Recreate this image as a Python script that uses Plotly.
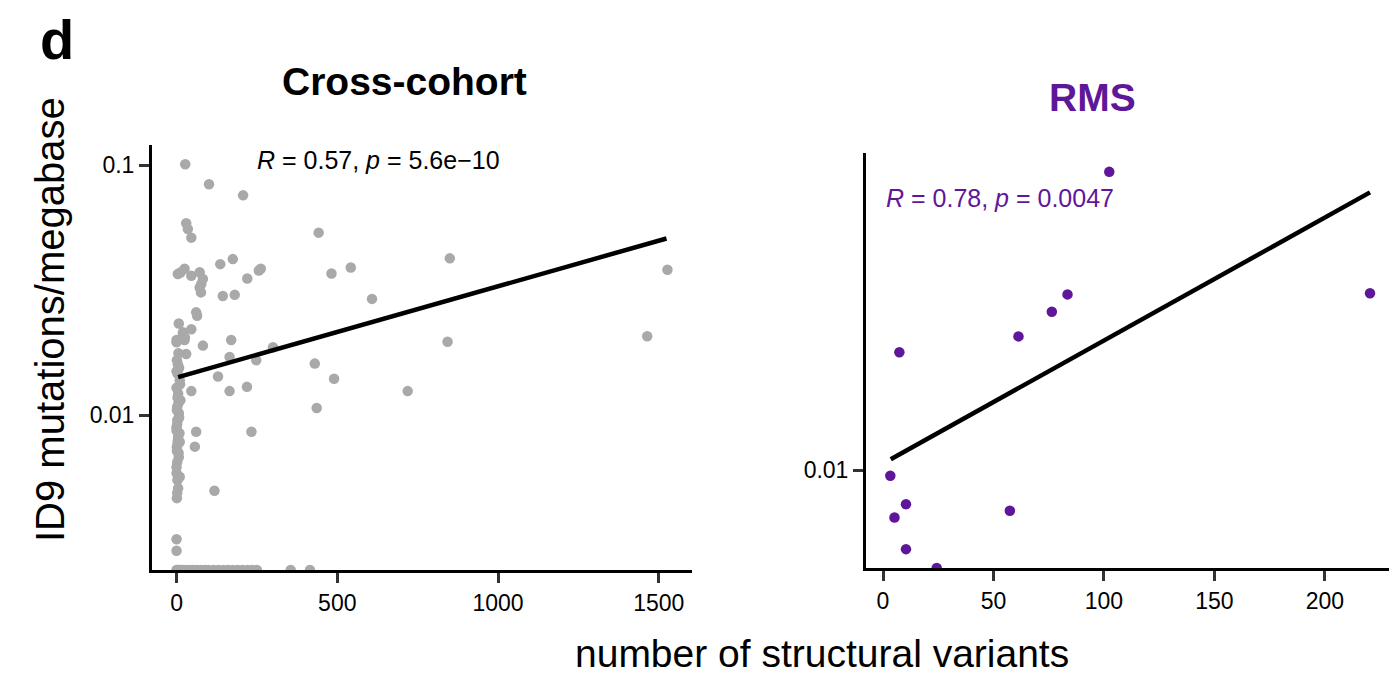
import numpy as np
import plotly.graph_objects as go

# ---------------- data ----------------
# Cross-cohort: samples with non-zero ID9 rate
cc_x = [27, 101, 207, 30, 35, 46, 442, 4, 25, 12,
        46, 72, 82, 77, 72, 136, 175, 220, 256, 262,
        482, 542, 608, 850, 1527, 76, 144, 181, 61, 64,
        7, 20, 46, 0, 25, 82, 170, 843, 1464, 300,
        30, 165, 248, 129, 165, 219, 46, 430, 490, 436,
        719, 61, 233, 57, 118, 0, 0,
        2, 6, 1, 8, 3, 10, 0, 5, 12, 2, 7, 3, 0, 9, 4, 1, 6, 2, 0, 3, 5, 1,
        4, 0, 11, 3, 6, 1, 8, 2, 0, 5, 3, 1, 7, 0, 4, 2,
        3, 10, 5, 10, 20, 26, 0]
cc_y = [0.1007, 0.0838, 0.0757, 0.0586, 0.0555, 0.0513, 0.0537, 0.0367, 0.0385, 0.0372,
        0.0361, 0.0373, 0.0351, 0.0335, 0.0324, 0.0402, 0.0421, 0.0352, 0.0379, 0.0385,
        0.0369, 0.0390, 0.0292, 0.0424, 0.0382, 0.0310, 0.0300, 0.0303, 0.0258, 0.0250,
        0.0233, 0.0212, 0.0221, 0.0200, 0.0200, 0.0190, 0.0200, 0.0197, 0.0207, 0.0187,
        0.0176, 0.0171, 0.0166, 0.0143, 0.0125, 0.0130, 0.0125, 0.0161, 0.0140, 0.0107,
        0.0125, 0.0086, 0.0086, 0.0075, 0.0050, 0.0032, 0.00288,
        0.0199, 0.0177, 0.0166, 0.0155, 0.0147, 0.0138, 0.0129, 0.0122, 0.0115, 0.0108,
        0.0102, 0.00955, 0.00896, 0.00848, 0.00794, 0.00746, 0.00706, 0.0065, 0.00588,
        0.00551, 0.00512, 0.00467,
        0.0160, 0.0150, 0.0133, 0.0118, 0.0112, 0.0105, 0.0098, 0.0092, 0.0087, 0.0082,
        0.0077, 0.0072, 0.0068, 0.0062, 0.0056, 0.0049,
        0.0096, 0.00783, 0.00712, 0.00568, 0.0215, 0.0205, 0.0196]
# Cross-cohort: samples with zero ID9 rate (squished to the axis floor)
cc_zero_x = [0, 3, 6, 10, 15, 22, 30, 40, 50, 62, 75, 88, 100, 115, 130, 145,
             160, 175, 190, 205, 220, 235, 250, 355, 415]

# RMS cohort
rms_x = [102.4, 7.4, 61.3, 76.4, 83.5, 220.4, 3.3, 10.4, 5.2, 57.4, 10.4]
rms_y = [0.0843, 0.0232, 0.026, 0.031, 0.0351, 0.0354, 0.0096, 0.00783, 0.00712, 0.00747, 0.00568]
rms_zero_x = [24.3]

# fitted regression lines
cc_fit_x = [5, 1524]
cc_fit_y = [0.01422, 0.0509]
rms_fit_x = [3.5, 220.4]
rms_fit_y = [0.0108, 0.0728]

cc_xticks = [0, 500, 1000, 1500]
rms_xticks = [0, 50, 100, 150, 200]
y_ticks = [0.01, 0.1]
y_ticktext = ["0.01", "0.1"]

cc_label = "<i>R</i> = 0.57, <i>p</i> = 5.6e\u221210"
rms_label = "<i>R</i> = 0.78, <i>p</i> = 0.0047"

# ---------------- style ----------------
W, H = 1389, 676
GREY = "#a9a9a9"
PURPLE = "#5f1799"
FONT = "Liberation Sans"


def log_range(vals):
    lv = np.log10(vals)
    span = lv.max() - lv.min()
    return [lv.min() - 0.05 * span, lv.max() + 0.05 * span]


cc_yr = log_range(np.array(cc_y))
rms_yr = log_range(np.array(rms_y))
cc_floor = 10 ** cc_yr[0]
rms_floor = 10 ** rms_yr[0]

fig = go.Figure()

fig.add_trace(go.Scatter(x=cc_zero_x, y=[cc_floor] * len(cc_zero_x), mode="markers",
                         marker=dict(color=GREY, size=10.5), xaxis="x", yaxis="y",
                         cliponaxis=True, showlegend=False))
fig.add_trace(go.Scatter(x=cc_x, y=cc_y, mode="markers",
                         marker=dict(color=GREY, size=10.5), xaxis="x", yaxis="y",
                         cliponaxis=True, showlegend=False))
fig.add_trace(go.Scatter(x=cc_fit_x, y=cc_fit_y, mode="lines",
                         line=dict(color="black", width=4.5), xaxis="x", yaxis="y",
                         showlegend=False))

fig.add_trace(go.Scatter(x=rms_zero_x, y=[rms_floor] * len(rms_zero_x), mode="markers",
                         marker=dict(color=PURPLE, size=10.5), xaxis="x2", yaxis="y2",
                         cliponaxis=True, showlegend=False))
fig.add_trace(go.Scatter(x=rms_x, y=rms_y, mode="markers",
                         marker=dict(color=PURPLE, size=10.5), xaxis="x2", yaxis="y2",
                         cliponaxis=True, showlegend=False))
fig.add_trace(go.Scatter(x=rms_fit_x, y=rms_fit_y, mode="lines",
                         line=dict(color="black", width=4.5), xaxis="x2", yaxis="y2",
                         showlegend=False))

axis_common = dict(showgrid=False, zeroline=False, showline=True, linecolor="black",
                   linewidth=3, ticks="outside", ticklen=10, tickwidth=2.5,
                   tickcolor="#333333", tickfont=dict(family=FONT, size=23, color="black"))

fig.update_layout(
    width=W, height=H,
    margin=dict(l=0, r=0, t=0, b=0),
    paper_bgcolor="white", plot_bgcolor="white",
    font=dict(family=FONT, color="black"),
    xaxis=dict(domain=[152 / W, 692 / W], range=[-76.35, 1603.35],
               tickvals=cc_xticks, anchor="y", **axis_common),
    yaxis=dict(domain=[1 - 570 / H, 1 - 145 / H], type="log", range=cc_yr,
               tickvals=y_ticks, ticktext=y_ticktext, anchor="x", **axis_common),
    xaxis2=dict(domain=[866 / W, 1.0], range=[-7.7, 229.0],
                tickvals=rms_xticks, anchor="y2", **axis_common),
    yaxis2=dict(domain=[1 - 568 / H, 1 - 153 / H], type="log", range=rms_yr,
                tickvals=y_ticks, ticktext=y_ticktext, anchor="x2", **axis_common),
)


def ann(text, px, py, size, color="black", bold=False, xanchor="center", angle=0):
    if bold:
        text = "<b>" + text + "</b>"
    fig.add_annotation(text=text, x=px / W, y=1 - py / H, xref="paper", yref="paper",
                       xanchor=xanchor, yanchor="middle", showarrow=False, textangle=angle,
                       font=dict(family=FONT, size=size, color=color))


ann("d", 57, 40, 56, bold=True)
ann("Cross-cohort", 404, 82, 39, bold=True)
ann("RMS", 1092, 97, 39, color=PURPLE, bold=True)
ann(cc_label, 255, 160, 25, xanchor="left")
ann(rms_label, 884, 198, 25, color=PURPLE, xanchor="left")
ann("ID9 mutations/megabase", 50, 320, 40, angle=-90)
ann("number of structural variants", 822, 653, 39)

fig.write_html("out.html")
